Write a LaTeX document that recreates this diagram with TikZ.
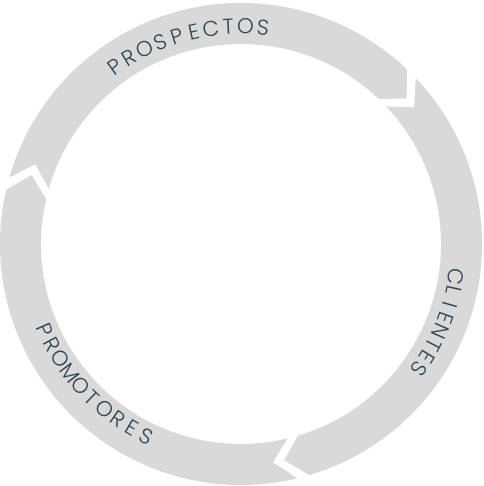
\documentclass[tikz,border=0pt]{standalone}
\usepackage{fontspec}
\newfontfamily\lblfont{Poppins Light}
\definecolor{band}{HTML}{D9D9D9}
\definecolor{ink}{HTML}{34434D}
\newcommand\Ro{241}
\newcommand\Ri{200}
\newcommand\Rm{220.5}
% #1 gap where the segment starts (notch), #2 gap where it ends (tip); clockwise
\newcommand\arrowseg[2]{%
  \fill[band] (#1-1.5:\Ro) arc[start angle=#1-1.5, end angle=#2+1.5, radius=\Ro]
    -- (#2+1.5-5.2:\Rm) -- (#2+1.5:\Ri)
    arc[start angle=#2+1.5, end angle=#1-1.5, radius=\Ri]
    -- (#1-1.5-5.2:\Rm) -- cycle;}
\newlength\lw
% #1 name prefix, #2 first letter angle, #3 last letter angle, #4 radius, #5 rotation offset, #6 letters
\newcommand\arcword[6]{%
  \begingroup
  \lblfont\fontsize{21.5}{21.5}\selectfont
  \xdef\awSum{0}\xdef\awPrev{0}\xdef\awN{0}%
  \foreach \l in {#6}{%
    \settowidth\lw{\l}%
    \pgfmathsetmacro\cw{\lw}%
    \ifnum\awN>0 \pgfmathsetmacro\s{\awSum+(\awPrev+\cw)/2}\xdef\awSum{\s}\fi
    \xdef\awPrev{\cw}%
    \pgfmathtruncatemacro\nn{\awN+1}\xdef\awN{\nn}%
  }%
  \pgfmathsetmacro\awDir{(#3>#2)?1:-1}%
  \pgfmathsetmacro\awT{(abs(#3-(#2))*pi/180*#4-\awSum)/(\awN-1)}%
  \xdef\awAng{#2}\xdef\awPrev{0}%
  \foreach \l [count=\i] in {#6}{%
    \settowidth\lw{\l}%
    \pgfmathsetmacro\cw{\lw}%
    \ifnum\i>1 \pgfmathsetmacro\a{\awAng+\awDir*((\awPrev+\cw)/2+\awT)/#4*180/pi}\xdef\awAng{\a}\fi
    \xdef\awPrev{\cw}%
    \node[ltr, rotate=\awAng+#5] (#1\i) at (\awAng:#4) {\l};
  }%
  \endgroup}
\begin{document}
\begin{tikzpicture}[x=1pt,y=1pt,
  ltr/.style={font=\lblfont\fontsize{21.5}{21.5}\selectfont, text=ink, inner sep=0pt, anchor=center}]
\useasboundingbox (-241,-242) rectangle (242,244);
\arrowseg{165.5}{45}
\arrowseg{45}{-75}
\arrowseg{285}{165.5}
% PROSPECTOS (tops outward)
\arcword{pr}{125.5}{84.2}{217.5}{-90}{P,R,O,S,P,E,C,T,O,S}
% CLIENTES (tops outward)
\arcword{cl}{-8.6}{-35.2}{217.5}{-90}{C,L,I,E,N,T,E,S}
% PROMOTORES (tops inward)
\arcword{pm}{203.6}{243.8}{214}{90}{P,R,O,M,O,T,O,R,E,S}
\end{tikzpicture}
\end{document}
